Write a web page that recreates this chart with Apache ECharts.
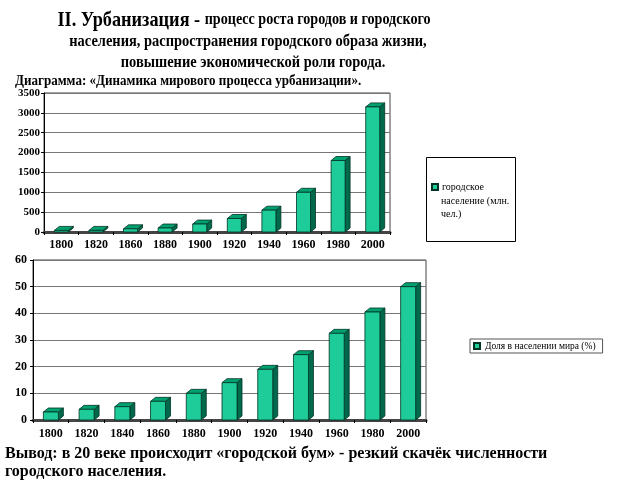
<!DOCTYPE html>
<html>
<head>
<meta charset="utf-8">
<script src="https://cdn.jsdelivr.net/npm/echarts@6/dist/echarts.min.js"></script>
<style>
  html, body { margin: 0; padding: 0; background: #fff; }
  #chart { width: 640px; height: 480px; }
</style>
</head>
<body>
<div id="chart"></div>
<script>
// годы и значения
const yearsUrban = ['1800', '1820', '1860', '1880', '1900', '1920', '1940', '1960', '1980', '2000'];
const urbanPop = [40, 40, 80, 100, 200, 340, 550, 1000, 1800, 3150];
const yearsShare = ['1800', '1820', '1840', '1860', '1880', '1900', '1920', '1940', '1960', '1980', '2000'];
const urbanShare = [3, 4, 5, 7, 10, 14, 19, 24.5, 32.5, 40.5, 50];

const serif = '"Liberation Serif", "DejaVu Serif", serif';

// объёмный столбик как в Excel
function bar3d(width) {
    return function (params, api) {
        const top = api.coord([api.value(0), api.value(1)]);
        const base = api.coord([api.value(0), 0]);
        const dx = 5, dy = 4;
        const l = top[0] - width / 2, r = top[0] + width / 2;
        return {
            type: 'group',
            children: [
                {
                    type: 'polygon',
                    shape: { points: [[r, base[1]], [r + dx, base[1] - dy], [r + dx, top[1] - dy], [r, top[1]]] },
                    style: { fill: '#00694c', stroke: '#003324', lineWidth: 0.8 }
                },
                {
                    type: 'polygon',
                    shape: { points: [[l, top[1]], [l + dx, top[1] - dy], [r + dx, top[1] - dy], [r, top[1]]] },
                    style: { fill: '#00a070', stroke: '#003324', lineWidth: 0.8 }
                },
                {
                    type: 'rect',
                    shape: { x: l, y: top[1], width: width, height: base[1] - top[1] },
                    style: { fill: '#1dcc98', stroke: '#003324', lineWidth: 0.8 }
                }
            ]
        };
    };
}

function headText(x, y, text, size, sx) {
    return {
        type: 'text',
        x: x,
        y: y,
        scaleX: sx,
        style: {
            text: text,
            fontFamily: serif,
            fontWeight: 'bold',
            fontSize: size,
            fill: '#000',
            textAlign: 'center',
            textVerticalAlign: 'middle'
        }
    };
}

const chart = echarts.init(document.getElementById('chart'));

const axisLabelStyle = { color: '#000', fontFamily: serif, fontWeight: 'bold' };

chart.setOption({
    animation: false,
    graphic: [
        {
            type: 'text',
            x: 244,
            y: 20,
            scaleX: 0.83,
            style: {
                text: '{a|II. Урбанизация - }{b|процесс роста городов и городского}',
                textAlign: 'center',
                textVerticalAlign: 'middle',
                rich: {
                    a: { fontFamily: serif, fontWeight: 'bold', fontSize: 22, fill: '#000' },
                    b: { fontFamily: serif, fontWeight: 'bold', fontSize: 17, fill: '#000' }
                }
            }
        },
        headText(248, 42, 'населения, распространения городского образа жизни,', 17, 0.85),
        headText(253, 63, 'повышение экономической роли города.', 17, 0.85),
        {
            type: 'text',
            x: 15,
            y: 81,
            scaleX: 0.87,
            style: {
                text: 'Диаграмма: «Динамика мирового процесса урбанизации».',
                fontFamily: serif, fontWeight: 'bold', fontSize: 15, fill: '#000',
                textAlign: 'left', textVerticalAlign: 'middle'
            }
        },
        {
            type: 'text',
            x: 5,
            y: 445,
            style: {
                text: 'Вывод: в 20 веке происходит «городской бум» - резкий скачёк численности\nгородского населения.',
                fontFamily: serif, fontWeight: 'bold', fontSize: 16, fill: '#000', lineHeight: 18,
                textAlign: 'left', textVerticalAlign: 'top'
            }
        },
        // рамка и хвост подписи легенды верхней диаграммы
        {
            type: 'rect',
            shape: { x: 426.5, y: 157.5, width: 89, height: 84 },
            style: { fill: 'none', stroke: '#000', lineWidth: 1 }
        },
        {
            type: 'text',
            x: 441,
            y: 195,
            style: {
                text: 'население (млн.\nчел.)',
                fontFamily: serif, fontSize: 10, fill: '#000', lineHeight: 13,
                textAlign: 'left', textVerticalAlign: 'top'
            }
        }
    ],
    legend: [
        {
            left: 431,
            top: 182,
            data: ['городское население (млн. чел.)'],
            formatter: () => 'городское',
            icon: 'rect',
            itemWidth: 6,
            itemHeight: 6,
            itemGap: 0,
            padding: 0,
            textStyle: { fontFamily: serif, fontSize: 10, color: '#000', padding: [0, 0, 0, -1] }
        },
        {
            left: 470,
            top: 339,
            data: ['Доля в населении мира (%)'],
            icon: 'rect',
            itemWidth: 6,
            itemHeight: 6,
            padding: [2, 7, 2, 3],
            borderColor: '#555',
            borderWidth: 1,
            textStyle: { fontFamily: serif, fontSize: 9.5, color: '#000' }
        }
    ],
    grid: [
        { left: 44, right: 250, top: 93, bottom: 248, show: true, borderColor: '#444', borderWidth: 1 },
        { left: 33, right: 214, top: 260, bottom: 60, show: true, borderColor: '#444', borderWidth: 1 }
    ],
    xAxis: [
        {
            gridIndex: 0,
            type: 'category',
            data: yearsUrban,
            axisLine: { lineStyle: { color: '#444', width: 3 } },
            axisTick: { show: true, length: 3, lineStyle: { color: '#000' } },
            axisLabel: Object.assign({ fontSize: 12, margin: 7 }, axisLabelStyle)
        },
        {
            gridIndex: 1,
            type: 'category',
            data: yearsShare,
            axisLine: { lineStyle: { color: '#444', width: 3 } },
            axisTick: { show: true, length: 3, lineStyle: { color: '#000' } },
            axisLabel: Object.assign({ fontSize: 12, margin: 8 }, axisLabelStyle)
        }
    ],
    yAxis: [
        {
            gridIndex: 0,
            type: 'value',
            min: 0,
            max: 3500,
            interval: 500,
            axisLine: { show: true, lineStyle: { color: '#000' } },
            axisTick: { show: true, length: 3, lineStyle: { color: '#000' } },
            splitLine: { lineStyle: { color: '#777' } },
            axisLabel: Object.assign({ fontSize: 11, margin: 4, formatter: v => String(v) }, axisLabelStyle)
        },
        {
            gridIndex: 1,
            type: 'value',
            min: 0,
            max: 60,
            interval: 10,
            axisLine: { show: true, lineStyle: { color: '#000' } },
            axisTick: { show: true, length: 3, lineStyle: { color: '#000' } },
            splitLine: { lineStyle: { color: '#777' } },
            axisLabel: Object.assign({ fontSize: 12, margin: 6 }, axisLabelStyle)
        }
    ],
    series: [
        {
            name: 'городское население (млн. чел.)',
            type: 'custom',
            xAxisIndex: 0,
            yAxisIndex: 0,
            renderItem: bar3d(14),
            itemStyle: { color: '#1dcc98', borderColor: '#003324', borderWidth: 0.8 },
            encode: { x: 0, y: 1 },
            data: yearsUrban.map((y, i) => [i, urbanPop[i]])
        },
        {
            name: 'Доля в населении мира (%)',
            type: 'custom',
            xAxisIndex: 1,
            yAxisIndex: 1,
            renderItem: bar3d(15),
            itemStyle: { color: '#1dcc98', borderColor: '#003324', borderWidth: 0.8 },
            encode: { x: 0, y: 1 },
            data: yearsShare.map((y, i) => [i, urbanShare[i]])
        }
    ]
});
</script>
</body>
</html>
